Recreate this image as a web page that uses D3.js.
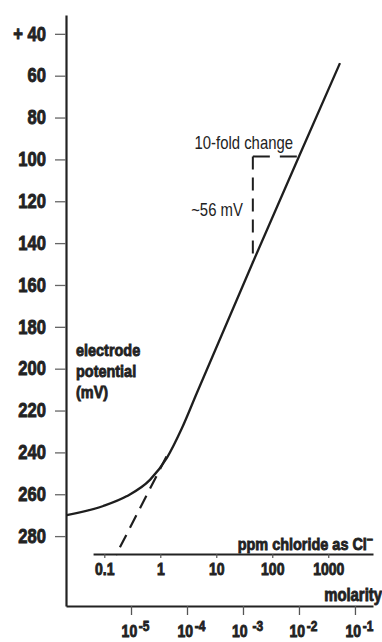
<!DOCTYPE html>
<html>
<head>
<meta charset="utf-8">
<script src="https://cdn.jsdelivr.net/npm/d3@7"></script>
<style>
  body { margin: 0; background: #fff; }
  text { font-family: "Liberation Sans", Arial, sans-serif; fill: #222; }
  text.heavy { stroke: #222; stroke-width: 0.85px; }
</style>
</head>
<body>
<div id="chart"></div>
<script>
// response curve: molarity of chloride vs electrode potential (mV)
var molarity = [7.1e-7, 3.2e-6, 8.3e-6, 2.2e-5, 4.4e-5, 8.1e-5, 1.48e-4, 1.51e-3, 1.0e-2, 5.4e-2];
var potential = [270, 265.6, 261, 253, 242.5, 228.5, 212, 149, 98.6, 54];

// dashed extrapolation of the straight part
var tangentMolarity = [4.3e-5, 5.4e-6];
var tangentPotential = [242, 289];

// the "10-fold change" step
var stepMolarity = [1.5e-3, 1.0e-2];
var stepPotential = [98.6, 149];

var mvTicks = [40, 60, 80, 100, 120, 140, 160, 180, 200, 220, 240, 260, 280];
var molarTicks = [1e-5, 1e-4, 1e-3, 1e-2, 1e-1];
var molarExponents = ["-5", "-4", " -3", "-2", "-1"];
var ppmTicks = [0.1, 1, 10, 100, 1000];
var ppmPerMolar = 30000;

var svgWidth = 382;
var svgHeight = 642;

var margin = {
    top: 15,
    right: 9,
    bottom: 36,
    left: 66
};

var width = svgWidth - margin.left - margin.right;
var height = svgHeight - margin.top - margin.bottom;

// squeeze text horizontally to get a condensed face
var squeeze = 0.85;
function narrow(selection) {
    selection.each(function() {
        var t = d3.select(this);
        var x = +t.attr("x") || 0;
        var y = +t.attr("y") || 0;
        t.attr("x", 0).attr("y", 0)
         .attr("transform", `translate(${x}, ${y}) scale(${squeeze}, 1)`);
    });
}

var svg = d3.select("#chart")
    .append("svg")
    .attr("width", svgWidth)
    .attr("height", svgHeight);

var chartGroup = svg.append("g")
    .attr("transform", `translate(${margin.left}, ${margin.top})`);

var xLogScale = d3.scaleLog()
    .domain([6.9e-7, 0.21])
    .range([0, width]);

var yLinearScale = d3.scaleLinear()
    .domain([31, 313.4])
    .range([0, height]);

// ppm axis shares the molarity positions, starting a bit right of the y axis
var ppmStart = 0.063;
var ppmScale = d3.scaleLog()
    .domain([ppmStart, xLogScale.domain()[1] * ppmPerMolar])
    .range([xLogScale(ppmStart / ppmPerMolar), width]);

// left axis
var leftAxis = d3.axisLeft(yLinearScale)
    .tickValues(mvTicks)
    .tickSize(11)
    .tickSizeOuter(0)
    .tickPadding(9)
    .tickFormat(d => d === 40 ? "+ 40" : d);

var yAxisG = chartGroup.append("g")
    .call(leftAxis);
yAxisG.select(".domain").attr("stroke", "#222").attr("stroke-width", 2.2);
yAxisG.selectAll(".tick line").attr("stroke", "#666").attr("stroke-width", 1.3);
yAxisG.selectAll(".tick text")
    .classed("heavy", true)
    .attr("font-size", "19.5px")
    .attr("font-weight", "bold")
    .call(narrow);

// bottom (molarity) axis
var bottomAxis = d3.axisBottom(xLogScale)
    .tickValues(molarTicks)
    .tickSize(9)
    .tickSizeOuter(0)
    .tickFormat("");

var xAxisG = chartGroup.append("g")
    .attr("transform", `translate(0, ${height})`)
    .call(bottomAxis);
xAxisG.select(".domain").attr("stroke", "#222").attr("stroke-width", 2.2);
xAxisG.selectAll(".tick line").attr("stroke", "#555").attr("stroke-width", 1.3);

var molarLabels = xAxisG.selectAll(".tick")
    .append("text")
    .classed("heavy", true)
    .attr("x", 4)
    .attr("y", 31)
    .attr("text-anchor", "middle")
    .attr("font-size", "16.5px")
    .attr("font-weight", "bold");
molarLabels.append("tspan").text("10");
molarLabels.append("tspan")
    .attr("dy", "-6")
    .attr("dx", "2")
    .attr("font-size", "14px")
    .text((d, i) => molarExponents[i]);
molarLabels.call(narrow);

chartGroup.append("text")
    .classed("heavy", true)
    .attr("x", width + margin.right)
    .attr("y", height - 5)
    .attr("text-anchor", "end")
    .attr("font-size", "17.5px")
    .attr("font-weight", "bold")
    .text("molarity")
    .call(narrow);

// ppm axis
var ppmAxis = d3.axisBottom(ppmScale)
    .tickValues(ppmTicks)
    .tickSize(4)
    .tickSizeOuter(0)
    .tickPadding(5)
    .tickFormat(d => d);

var ppmY = yLinearScale(288.6);
var ppmG = chartGroup.append("g")
    .attr("transform", `translate(0, ${ppmY})`)
    .call(ppmAxis);
ppmG.select(".domain").attr("stroke", "#222").attr("stroke-width", 2);
ppmG.selectAll(".tick line").attr("stroke", "#555").attr("stroke-width", 1.2);
ppmG.selectAll(".tick text")
    .classed("heavy", true)
    .attr("font-size", "16.5px")
    .attr("font-weight", "bold")
    .call(narrow);

var ppmTitle = chartGroup.append("text")
    .classed("heavy", true)
    .attr("x", width)
    .attr("y", ppmY - 4)
    .attr("text-anchor", "end")
    .attr("font-size", "17px")
    .attr("font-weight", "bold");
ppmTitle.append("tspan").text("ppm chloride as Cl");
ppmTitle.append("tspan")
    .attr("dy", "-7")
    .attr("font-size", "13px")
    .text("\u2013");
ppmTitle.call(narrow);

// y axis title
chartGroup.append("text")
    .classed("heavy", true)
    .attr("x", 10)
    .attr("y", 341)
    .attr("font-size", "17px")
    .attr("font-weight", "bold")
    .call(narrow)
    .selectAll("tspan")
    .data(["electrode", "potential", "(mV)"])
    .enter()
    .append("tspan")
    .attr("x", 0)
    .attr("dy", (d, i) => i === 0 ? 0 : 21)
    .text(d => d);

// curve
var curveData = molarity.map((m, i) => ({m: m, mv: potential[i]}));
var line = d3.line()
    .x(d => xLogScale(d.m))
    .y(d => yLinearScale(d.mv))
    .curve(d3.curveMonotoneX);

chartGroup.append("path")
    .datum(curveData)
    .attr("d", line)
    .attr("fill", "none")
    .attr("stroke", "#1e1e1e")
    .attr("stroke-width", 2.3);

// dashed extrapolation
chartGroup.append("path")
    .datum(tangentMolarity.map((m, i) => ({m: m, mv: tangentPotential[i]})))
    .attr("d", d3.line().x(d => xLogScale(d.m)).y(d => yLinearScale(d.mv)))
    .attr("fill", "none")
    .attr("stroke", "#1e1e1e")
    .attr("stroke-width", 2.2)
    .attr("stroke-dasharray", "14,8");

// 10-fold step
chartGroup.append("line")
    .attr("x1", xLogScale(stepMolarity[0]))
    .attr("x2", xLogScale(stepMolarity[1]))
    .attr("y1", yLinearScale(stepPotential[0]))
    .attr("y2", yLinearScale(stepPotential[0]))
    .attr("stroke", "#1e1e1e")
    .attr("stroke-width", 2)
    .attr("stroke-dasharray", "17,10");

chartGroup.append("line")
    .attr("x1", xLogScale(stepMolarity[0]))
    .attr("x2", xLogScale(stepMolarity[0]))
    .attr("y1", yLinearScale(stepPotential[0]))
    .attr("y2", yLinearScale(stepPotential[1]))
    .attr("stroke", "#1e1e1e")
    .attr("stroke-width", 2)
    .attr("stroke-dasharray", "13,8");

chartGroup.append("text")
    .attr("x", xLogScale(stepMolarity[1]) - 6)
    .attr("y", yLinearScale(stepPotential[0]) - 7)
    .attr("text-anchor", "end")
    .attr("font-size", "17.5px")
    .text("10-fold change")
    .call(narrow);

chartGroup.append("text")
    .attr("x", xLogScale(stepMolarity[0]) - 10)
    .attr("y", yLinearScale(stepPotential[0]) + 60)
    .attr("text-anchor", "end")
    .attr("font-size", "17.5px")
    .text("~56 mV")
    .call(narrow);
</script>
</body>
</html>
